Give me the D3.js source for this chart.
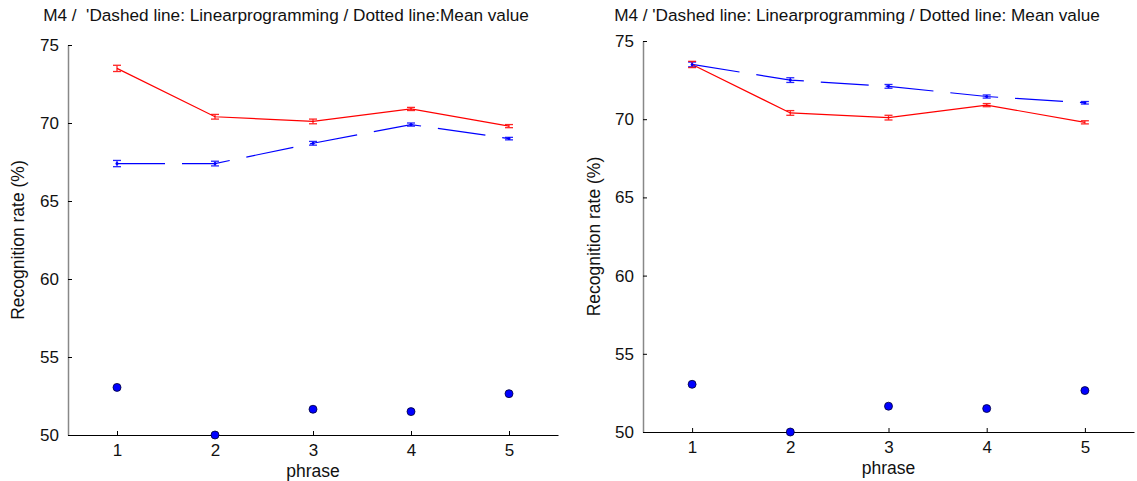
<!DOCTYPE html>
<html>
<head>
<meta charset="utf-8">
<script src="https://cdn.jsdelivr.net/npm/d3@7"></script>
<style>
  body { margin: 0; background: #fff; }
  svg { font-family: "Liberation Sans", Arial, sans-serif; }
</style>
</head>
<body>
<svg id="canvas" width="1137" height="481"></svg>
<script>
'use strict';

/* values */
var phases = [1, 2, 3, 4, 5];
var xTicks = [1, 2, 3, 4, 5];
var yTicks = [50, 55, 60, 65, 70, 75];

/* red solid line (same in both panels) */
var redMean = [73.5, 70.4, 70.1, 70.9, 69.8];
var redErr = [0.2, 0.15, 0.15, 0.1, 0.1];

/* blue dashed line */
var blueLeft = [67.4, 67.4, 68.7, 69.9, 69.0];
var blueLeftErr = [0.2, 0.15, 0.12, 0.1, 0.08];
var blueRight = [73.5, 72.5, 72.1, 71.45, 71.05];
var blueRightErr = [0.15, 0.15, 0.12, 0.1, 0.08];

/* blue dots */
var dotValues = [53.05, 50.0, 51.65, 51.5, 52.65];

var titles = [
  "M4 /  'Dashed line: Linearprogramming / Dotted line:Mean value",
  "M4 / 'Dashed line: Linearprogramming / Dotted line: Mean value"
];

var svg = d3.select('#canvas');

/* draw one panel; box holds the pixel frame of the axes */
function drawPanel(box, title, blue, blueErr){
  var x = d3.scaleLinear().domain([0.5, 5.5]).range([box.left, box.right]);
  var y = d3.scaleLinear().domain([50, 75]).range([box.bottom, box.top]);
  var g = svg.append('g');

  /* y axis: grey line, ticks pointing inward */
  var yAxis = d3.axisLeft(y).tickValues(yTicks).tickFormat(d3.format('d'))
    .tickSizeInner(-4).tickSizeOuter(0).tickPadding(9);
  var ya = g.append('g')
    .attr('transform', 'translate(' + box.left + ',0)')
    .call(yAxis);
  ya.select('.domain').attr('stroke', '#888').attr('stroke-width', 1.5);
  ya.selectAll('.tick line').attr('stroke', '#000');
  ya.selectAll('text').attr('font-size', 17).attr('fill', '#111')
    .attr('font-family', '"Liberation Sans", Arial, sans-serif');

  /* x axis: black line, ticks pointing up */
  var xAxis = d3.axisBottom(x).tickValues(xTicks).tickFormat(d3.format('d'))
    .tickSizeInner(-4).tickSizeOuter(0).tickPadding(9);
  var xa = g.append('g')
    .attr('transform', 'translate(0,' + box.bottom + ')')
    .call(xAxis);
  xa.select('.domain').attr('stroke', '#000').attr('stroke-width', 1.2);
  xa.selectAll('text').attr('font-size', 17).attr('fill', '#111')
    .attr('font-family', '"Liberation Sans", Arial, sans-serif');

  /* labels */
  g.append('text')
    .attr('x', box.titleX).attr('y', 21)
    .attr('text-anchor', 'middle')
    .attr('font-size', 17.2).attr('fill', '#111')
    .style('white-space', 'pre')
    .text(title);
  g.append('text')
    .attr('x', (box.left + box.right) / 2).attr('y', box.bottom + 42)
    .attr('text-anchor', 'middle')
    .attr('font-size', 17.5).attr('fill', '#111')
    .text('phrase');
  g.append('text')
    .attr('transform', 'translate(' + box.ylabX + ',' + ((box.top + box.bottom) / 2) + ') rotate(-90)')
    .attr('text-anchor', 'middle')
    .attr('font-size', 17.5).attr('fill', '#111')
    .text('Recognition rate (%)');

  var line = d3.line()
    .x(function(d){ return x(d.x); })
    .y(function(d){ return y(d.y); });

  var blueData = phases.map(function(p, i){ return {x: p, y: blue[i], e: blueErr[i]}; });
  var redData = phases.map(function(p, i){ return {x: p, y: redMean[i], e: redErr[i]}; });

  /* blue dashed line */
  g.append('path')
    .datum(blueData)
    .attr('d', line)
    .attr('fill', 'none')
    .attr('stroke', '#0000ff')
    .attr('stroke-width', 1.2)
    .attr('stroke-dasharray', '48,17');

  /* red solid line */
  g.append('path')
    .datum(redData)
    .attr('d', line)
    .attr('fill', 'none')
    .attr('stroke', '#ff0000')
    .attr('stroke-width', 1.2);

  /* error bars */
  function errorBars(data, color){
    var eb = g.append('g').attr('stroke', color).attr('stroke-width', 1.3).attr('opacity', 0.85);
    data.forEach(function(d){
      var cx = x(d.x);
      eb.append('line').attr('x1', cx).attr('x2', cx).attr('y1', y(d.y - d.e)).attr('y2', y(d.y + d.e));
      eb.append('line').attr('x1', cx - 4).attr('x2', cx + 4).attr('y1', y(d.y - d.e)).attr('y2', y(d.y - d.e));
      eb.append('line').attr('x1', cx - 4).attr('x2', cx + 4).attr('y1', y(d.y + d.e)).attr('y2', y(d.y + d.e));
    });
  }
  errorBars(blueData, '#0000ff');
  errorBars(redData, '#ff0000');

  /* small point markers on the blue line */
  g.append('g').selectAll('circle')
    .data(blueData)
    .enter().append('circle')
      .attr('cx', function(d){ return x(d.x); })
      .attr('cy', function(d){ return y(d.y); })
      .attr('r', 1.5)
      .attr('fill', '#0000ff');

  /* mean value dots */
  g.append('g').selectAll('circle')
    .data(dotValues)
    .enter().append('circle')
      .attr('cx', function(d, i){ return x(phases[i]); })
      .attr('cy', function(d){ return y(d); })
      .attr('r', 4)
      .attr('fill', '#0000ff')
      .attr('stroke', '#000033')
      .attr('stroke-width', 0.8);
}

drawPanel({left: 68, right: 558, top: 45, bottom: 435, titleX: 286, ylabX: 24}, titles[0], blueLeft, blueLeftErr);
drawPanel({left: 643, right: 1134, top: 41, bottom: 432, titleX: 857, ylabX: 600}, titles[1], blueRight, blueRightErr);
</script>
</body>
</html>
